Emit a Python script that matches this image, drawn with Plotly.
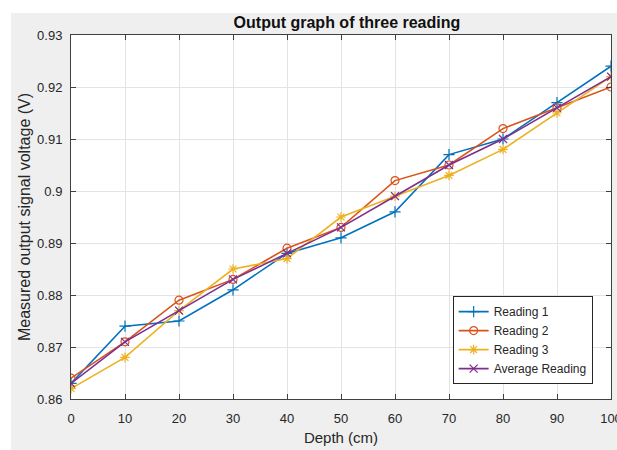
import plotly.graph_objects as go

# Depth positions (cm) and the measured output voltages (V)
depth = [0, 10, 20, 30, 40, 50, 60, 70, 80, 90, 100]
reading_1 = [0.863, 0.874, 0.875, 0.881, 0.888, 0.891, 0.896, 0.907, 0.910, 0.917, 0.924]
reading_2 = [0.864, 0.871, 0.879, 0.883, 0.889, 0.893, 0.902, 0.905, 0.912, 0.916, 0.920]
reading_3 = [0.862, 0.868, 0.877, 0.885, 0.887, 0.895, 0.899, 0.903, 0.908, 0.915, 0.922]
average_reading = [0.863, 0.871, 0.877, 0.883, 0.888, 0.893, 0.899, 0.905, 0.910, 0.916, 0.922]

x_ticks = [0, 10, 20, 30, 40, 50, 60, 70, 80, 90, 100]
y_ticks = [0.86, 0.87, 0.88, 0.89, 0.90, 0.91, 0.92, 0.93]
y_tick_text = ["0.86", "0.87", "0.88", "0.89", "0.9", "0.91", "0.92", "0.93"]

series = [
    ("Reading 1", reading_1, "#0072BD", "cross-thin-open"),
    ("Reading 2", reading_2, "#D95319", "circle-open"),
    ("Reading 3", reading_3, "#EDB120", "asterisk-open"),
    ("Average Reading", average_reading, "#7E2F8E", "x-thin-open"),
]

FONT = "Liberation Sans, Arial, sans-serif"
TEXT = "#262626"

fig = go.Figure()
for name, values, color, symbol in series:
    fig.add_trace(go.Scatter(
        x=depth, y=values, name=name, mode="lines+markers",
        line=dict(color=color, width=1.6),
        marker=dict(symbol=symbol, size=8, color=color,
                    line=dict(color=color, width=1.2)),
    ))

axis_common = dict(
    showline=True, linecolor="#404040", linewidth=1, mirror="ticks",
    ticks="inside", ticklen=5, tickcolor="#404040", tickwidth=1,
    showgrid=True, gridcolor="#e3e3e3", gridwidth=1, zeroline=False,
    ticklabeloverflow="allow", automargin=False,
    tickfont=dict(family=FONT, size=13, color=TEXT),
)

fig.update_layout(
    width=617, height=450,
    margin=dict(l=71, r=6, t=35, b=51),
    paper_bgcolor="white", plot_bgcolor="white",
    title=dict(text="<b>Output graph of three reading</b>",
               font=dict(family=FONT, size=16, color="#111111"),
               x=0.5623, xanchor="center", y=1 - 22 / 450, yanchor="middle"),
    xaxis=dict(range=[0, 100], tickvals=x_ticks, ticklabelstandoff=7,
               title=dict(text="Depth (cm)", standoff=7,
                          font=dict(family=FONT, size=15, color=TEXT)),
               **axis_common),
    yaxis=dict(range=[0.86, 0.93], tickvals=y_ticks, ticktext=y_tick_text,
               ticklabelstandoff=5,
               title=dict(text="Measured output signal voltage (V)", standoff=2,
                          font=dict(family=FONT, size=16, color=TEXT)),
               **axis_common),
    legend=dict(x=0.966, y=0.041, xanchor="right", yanchor="bottom",
                bgcolor="white", bordercolor="#262626", borderwidth=1,
                font=dict(family=FONT, size=12, color=TEXT),
                tracegroupgap=0, itemwidth=30),
    showlegend=True,
    shapes=[
        # light gray figure backdrop
        dict(type="rect", xref="paper", yref="paper", layer="below",
             x0=-0.111, x1=1.2, y0=-0.3, y1=1.0604,
             fillcolor="#efefef", line=dict(width=0)),
        # white axes area
        dict(type="rect", xref="paper", yref="paper", layer="below",
             x0=0, x1=1, y0=0, y1=1,
             fillcolor="white", line=dict(width=0)),
    ],
)

fig.write_html("out.html")
